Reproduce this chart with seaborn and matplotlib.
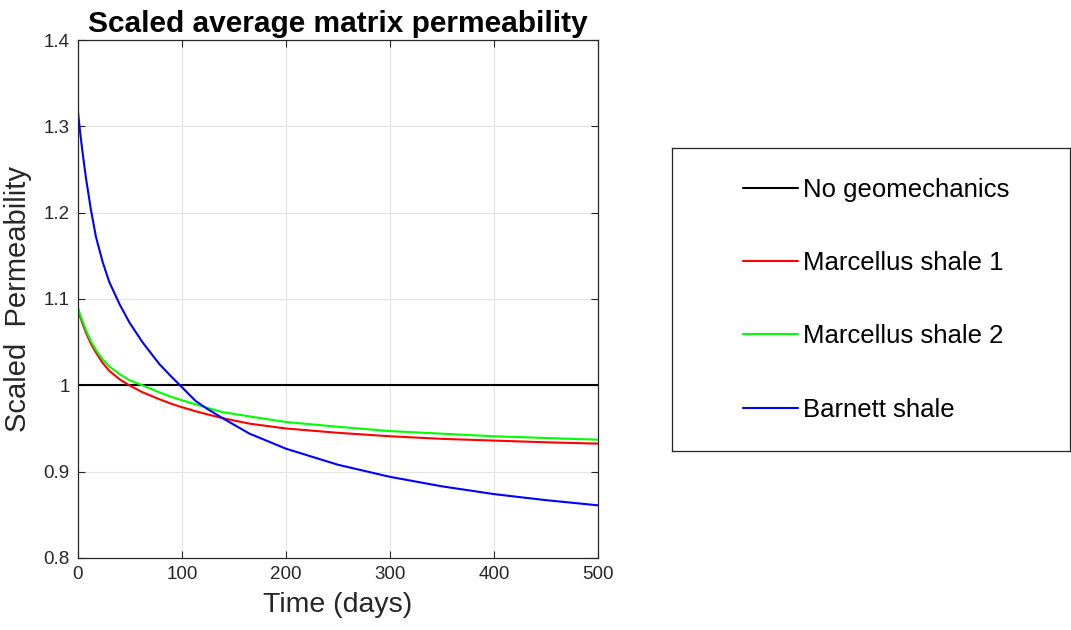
import numpy as np
import pandas as pd
import matplotlib
matplotlib.use("Agg")
import matplotlib.pyplot as plt
from matplotlib.lines import Line2D
import seaborn as sns

# values
time_days = [0, 2, 4.5, 7.7, 12.5, 17.3, 23.7, 30, 40, 49.4, 62, 78, 89, 99,
             113, 124, 139, 165, 200, 250, 300, 350, 400, 450, 500]
no_geomech = [1.0] * len(time_days)
marcellus_1 = [1.088, 1.080, 1.071, 1.061, 1.048, 1.038, 1.026, 1.017, 1.007,
               1.000, 0.992, 0.984, 0.979, 0.975, 0.970, 0.9665, 0.962, 0.9556,
               0.950, 0.945, 0.941, 0.938, 0.936, 0.934, 0.9325]
marcellus_2 = [1.090, 1.082, 1.074, 1.064, 1.051, 1.041, 1.030, 1.022, 1.013,
               1.006, 1.000, 0.992, 0.987, 0.983, 0.978, 0.974, 0.969, 0.964,
               0.9575, 0.952, 0.947, 0.944, 0.941, 0.939, 0.937]
barnett = [1.317, 1.294, 1.269, 1.240, 1.203, 1.172, 1.143, 1.120, 1.094,
           1.073, 1.050, 1.025, 1.011, 0.999, 0.982, 0.973, 0.962, 0.944,
           0.9266, 0.908, 0.894, 0.883, 0.874, 0.867, 0.861]

series_names = ["No geomechanics", "Marcellus shale 1", "Marcellus shale 2",
                "Barnett shale"]
series_colors = ["#000000", "#ff0000", "#00ff00", "#0000ff"]
x_ticks = [0, 100, 200, 300, 400, 500]
y_ticks = [0.8, 0.9, 1.0, 1.1, 1.2, 1.3, 1.4]
y_tick_labels = ["0.8", "0.9", "1", "1.1", "1.2", "1.3", "1.4"]

df = pd.DataFrame({
    "time": time_days * 4,
    "perm": no_geomech + marcellus_1 + marcellus_2 + barnett,
    "series": sum([[n] * len(time_days) for n in series_names], []),
})

sns.set_style("white")
plt.rcParams["font.family"] = ["Liberation Sans", "DejaVu Sans"]

fig = plt.figure(figsize=(10.71, 6.3), dpi=100)
ax = fig.add_axes([0.0728, 0.1143, 0.4855, 0.8222])

sns.lineplot(data=df, x="time", y="perm", hue="series", hue_order=series_names,
             palette=series_colors, linewidth=1.5, legend=False, ax=ax,
             sort=False, estimator=None)

ax.set_xlim(0, 500)
ax.set_ylim(0.8, 1.4)
ax.set_xticks(x_ticks)
ax.set_yticks(y_ticks)
ax.set_yticklabels(y_tick_labels)
ax.grid(True, color="#e3e3e3", linewidth=0.8)
ax.set_axisbelow(True)
for s in ax.spines.values():
    s.set_color("#262626")
    s.set_linewidth(0.9)
ax.tick_params(direction="in", length=5, width=0.8, color="#262626",
               labelsize=13.5, labelcolor="#262626", top=True, right=True,
               bottom=True, left=True, pad=6)

ax.set_xlabel("Time (days)", fontsize=20.5, color="#262626", labelpad=6)
ax.set_ylabel("Scaled  Permeability", fontsize=21, color="#262626", labelpad=8)
ax.set_title("Scaled average matrix permeability", fontsize=21.5,
             fontweight="bold", color="black", pad=6)

# legend drawn in its own boxed axes
lax = fig.add_axes([0.6275, 0.2841, 0.3716, 0.481])
lax.set_xticks([])
lax.set_yticks([])
for s in lax.spines.values():
    s.set_color("#262626")
    s.set_linewidth(0.9)
handles = [Line2D([0], [0], color=c, linewidth=1.5) for c in series_colors]
lax.legend(handles, series_names, loc="center left", bbox_to_anchor=(0.145, 0.5),
           frameon=False, fontsize=18.5, handlelength=2.15, handletextpad=0.2,
           labelspacing=1.92, borderpad=0, labelcolor="black")

fig.savefig("out.png", dpi=100)
